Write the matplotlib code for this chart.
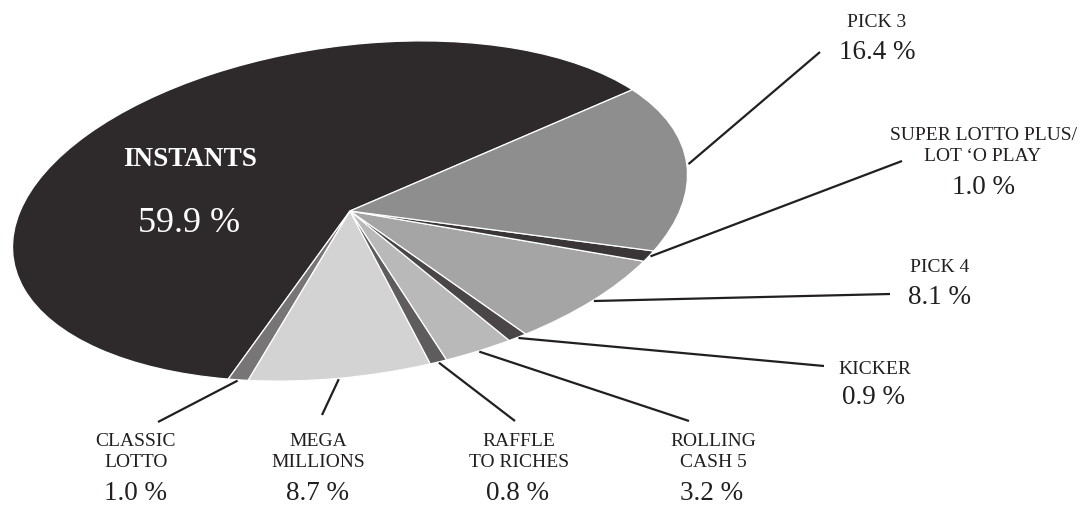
import numpy as np
import matplotlib
matplotlib.use("Agg")
import matplotlib.pyplot as plt
from matplotlib.transforms import Affine2D

plt.rcParams['font.family'] = ['Liberation Serif', 'DejaVu Serif']

# datos (orden antihorario desde el inicio)
juegos = ['INSTANTS', 'CLASSIC\nLOTTO', 'MEGA\nMILLIONS', 'RAFFLE\nTO RICHES',
          'ROLLING\nCASH 5', 'KICKER', 'PICK 4', 'SUPER LOTTO PLUS/\nLOT \u2018O PLAY', 'PICK 3']
porcentajes = [59.9, 1.0, 8.7, 0.8, 3.2, 0.9, 8.1, 1.0, 16.4]
colores = ['#2e2a2b', '#777576', '#d3d3d3', '#5f5c5d', '#bab9b9',
           '#4a4647', '#a6a5a5', '#3a3637', '#8f8e8f']

# posiciones de etiquetas (pixeles, y hacia abajo): cabecera, porcentaje, fin de la linea guia
pos_cab = {1: (136, 452), 2: (318, 452), 3: (519, 452), 4: (713, 452),
           5: (875, 369), 6: (940, 268), 7: (983, 146), 8: (877, 22)}
pos_pct = {1: (136, 494), 2: (318, 494), 3: (518, 494), 4: (712, 494),
           5: (873, 398), 6: (939, 298), 7: (983, 187), 8: (877, 52)}
fin_guia = {1: (158, 423), 2: (322, 416), 3: (515, 422), 4: (689, 422),
            5: (824, 367), 6: (890, 295), 7: (902, 162), 8: (820, 53)}

W, H = 1092, 506
cx, cy = 350, 212
a, b, rot = 340, 165, 8

fig = plt.figure(figsize=(W / 100, H / 100), dpi=100)
ax = fig.add_axes([0, 0, 1, 1])

wedges, _ = ax.pie(porcentajes, colors=colores, startangle=29.3, counterclock=True,
                   wedgeprops=dict(edgecolor='white', linewidth=0.9))
elipse = Affine2D().scale(a, b).rotate_deg(rot).translate(cx, H - cy)
for w in wedges:
    w.set_transform(elipse + ax.transData)

ax.set_aspect('auto')
ax.set_xlim(0, W)
ax.set_ylim(0, H)
ax.axis('off')

tinta = '#231f20'
for i, w in enumerate(wedges):
    if i == 0:
        continue
    ang = np.deg2rad((w.theta1 + w.theta2) / 2)
    x0, y0 = elipse.transform((1.005 * np.cos(ang), 1.005 * np.sin(ang)))
    x1, y1 = fin_guia[i]
    ax.plot([x0, x1], [y0, H - y1], color=tinta, lw=1.6, solid_capstyle='butt')
    hx, hy = pos_cab[i]
    ax.text(hx, H - hy, juegos[i], ha='center', va='center', fontsize=14,
            color=tinta, linespacing=1.3)
    px, py = pos_pct[i]
    ax.text(px, H - py, f'{porcentajes[i]:.1f} %', ha='center', va='center',
            fontsize=19.5, color=tinta)

ax.text(190, H - 160, juegos[0], ha='center', va='center', fontsize=19.5,
        fontweight='bold', color='white')
ax.text(189, H - 224, f'{porcentajes[0]:.1f} %', ha='center', va='center',
        fontsize=26, color='white')

fig.savefig('out.png', dpi=100)
